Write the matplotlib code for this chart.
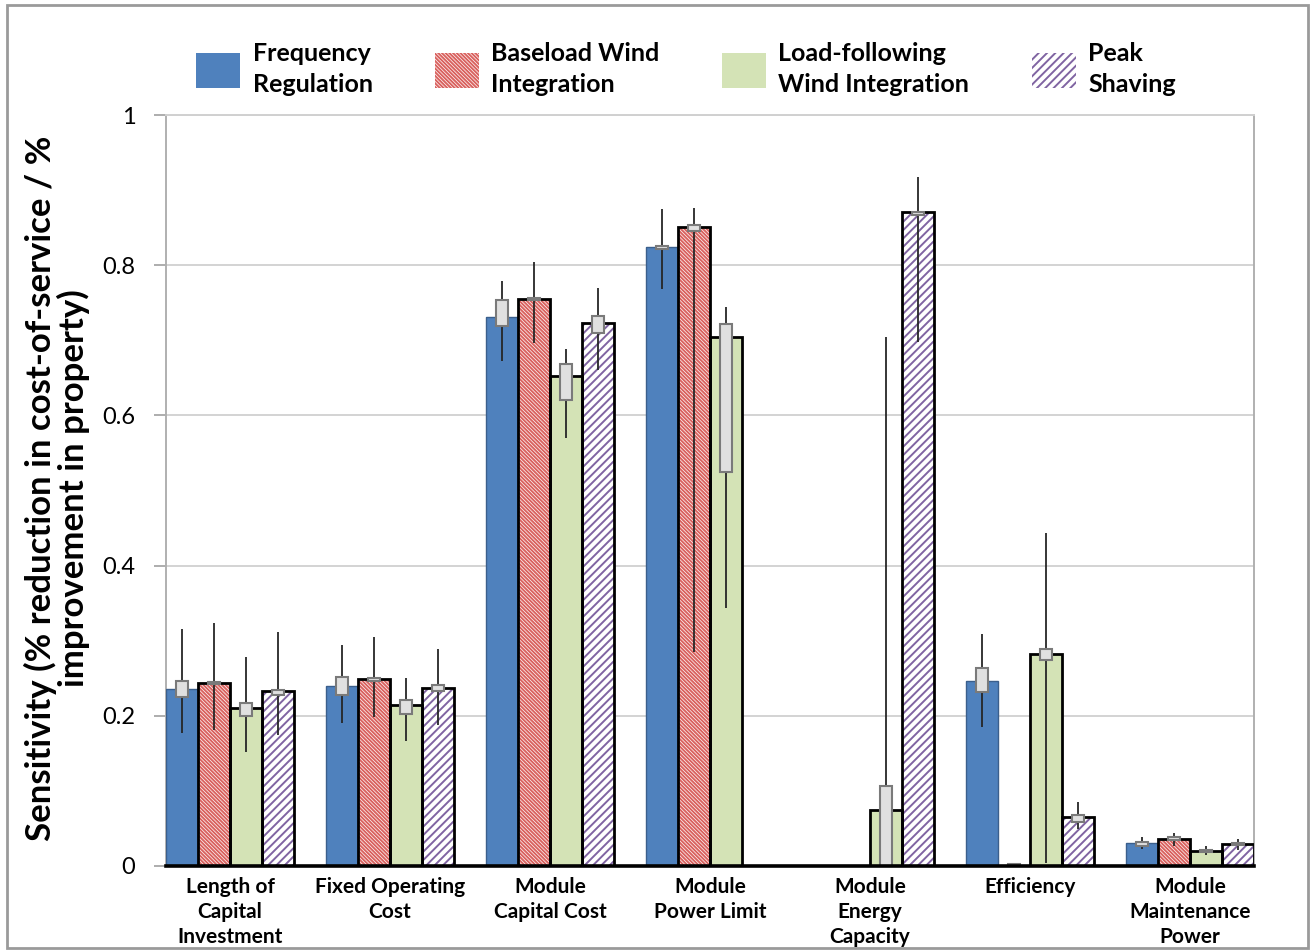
import numpy as np
import matplotlib
matplotlib.use("Agg")
import matplotlib.pyplot as plt
from matplotlib.patches import Rectangle, Patch

nan = np.nan

categories = ["Length of\nCapital\nInvestment", "Fixed Operating\nCost", "Module\nCapital Cost",
              "Module\nPower Limit", "Module\nEnergy\nCapacity", "Efficiency",
              "Module\nMaintenance\nPower"]
series_names = ["Frequency\nRegulation", "Baseload Wind\nIntegration",
                "Load-following\nWind Integration", "Peak\nShaving"]

freq = [0.236, 0.240, 0.731, 0.824, 0.0, 0.247, 0.030]
freq_err_lo = [0.177, 0.191, 0.672, 0.768, nan, 0.185, 0.022]
freq_err_hi = [0.316, 0.294, 0.779, 0.875, nan, 0.309, 0.038]
freq_box_lo = [0.225, 0.228, 0.719, 0.822, nan, 0.232, 0.027]
freq_box_hi = [0.246, 0.251, 0.753, 0.825, nan, 0.263, 0.032]

base = [0.244, 0.249, 0.755, 0.851, 0.0, 0.0, 0.0355]
base_err_lo = [0.181, 0.199, 0.697, 0.285, nan, nan, 0.026]
base_err_hi = [0.323, 0.305, 0.804, 0.876, nan, nan, 0.0435]
base_box_lo = [0.242, 0.247, 0.754, 0.846, nan, 0.0, 0.034]
base_box_hi = [0.245, 0.250, 0.756, 0.854, nan, 0.002, 0.038]

load = [0.211, 0.214, 0.653, 0.704, 0.075, 0.282, 0.020]
load_err_lo = [0.152, 0.166, 0.570, 0.344, 0.0, 0.004, 0.015]
load_err_hi = [0.278, 0.250, 0.689, 0.744, 0.705, 0.444, 0.027]
load_box_lo = [0.200, 0.203, 0.620, 0.525, 0.0, 0.274, 0.018]
load_box_hi = [0.217, 0.221, 0.669, 0.722, 0.106, 0.289, 0.021]

peak = [0.233, 0.237, 0.723, 0.0, 0.871, 0.065, 0.029]
peak_err_lo = [0.174, 0.188, 0.661, nan, 0.698, 0.049, 0.021]
peak_err_hi = [0.311, 0.289, 0.769, nan, 0.917, 0.085, 0.036]
peak_box_lo = [0.228, 0.233, 0.710, nan, 0.867, 0.059, 0.028]
peak_box_hi = [0.235, 0.241, 0.732, nan, 0.871, 0.068, 0.031]

yticks = [0, 0.2, 0.4, 0.6, 0.8, 1.0]
ytick_labels = ["0", "0.2", "0.4", "0.6", "0.8", "1"]

plt.rcParams['font.family'] = ['Lato', 'DejaVu Sans']
plt.rcParams['hatch.linewidth'] = 1.4

fig = plt.figure(figsize=(13.12, 9.51), dpi=100)
ax = fig.add_axes([166/1312, 1-866/951, (1254-166)/1312, (866-115)/951])

x = np.arange(len(categories))
w = 0.2
offsets = np.array([-1.5, -0.5, 0.5, 1.5]) * w

data = [
    (freq, freq_err_lo, freq_err_hi, freq_box_lo, freq_box_hi),
    (base, base_err_lo, base_err_hi, base_box_lo, base_box_hi),
    (load, load_err_lo, load_err_hi, load_box_lo, load_box_hi),
    (peak, peak_err_lo, peak_err_hi, peak_box_lo, peak_box_hi),
]
styles = [
    dict(face='#4f81bd', hatch=None, hcol='#4f81bd', edge='#3b5f8c', lw=1.0),
    dict(face='white', hatch='\\' * 9, hcol='#d9625f', edge='black', lw=2.0),
    dict(face='#d4e3b6', hatch=None, hcol='#d4e3b6', edge='black', lw=2.0),
    dict(face='white', hatch='////', hcol='#8064a2', edge='black', lw=2.0),
]

handles = []
for i, ((vals, elo, ehi, blo, bhi), st) in enumerate(zip(data, styles)):
    xs = x + offsets[i]
    vals = np.array(vals, dtype=float)
    ax.bar(xs, vals, w, color=st['face'], edgecolor=st['hcol'], hatch=st['hatch'],
           linewidth=0, zorder=2)
    mask = vals > 0
    ax.bar(xs[mask], vals[mask], w, fill=False, edgecolor=st['edge'],
           linewidth=st['lw'], zorder=3)
    elo = np.array(elo, dtype=float)
    ehi = np.array(ehi, dtype=float)
    ax.vlines(xs, elo, ehi, color='#262626', linewidth=1.3, zorder=4)
    blo = np.array(blo, dtype=float)
    bhi = np.array(bhi, dtype=float)
    ax.bar(xs, bhi - blo, 0.08, bottom=blo, color='#e0e0e0', edgecolor='#7a7a7a',
           linewidth=1.5, zorder=5)
    handles.append(Patch(facecolor=st['face'], edgecolor=st['hcol'], hatch=st['hatch'],
                         linewidth=0))

ax.set_xlim(-0.4, 6.4)
ax.set_ylim(0, 1)
ax.set_yticks(yticks)
ax.set_yticklabels(ytick_labels, fontsize=17)
ax.set_xticks(x)
ax.set_xticklabels(categories, fontsize=15, fontweight='bold', linespacing=1.3)
ax.tick_params(axis='x', length=0, pad=8)
ax.tick_params(axis='y', length=9, width=1.2, color='#a0a0a0', pad=13)
ax.grid(axis='y', color='#d0d0d0', linewidth=1.3, zorder=0)
ax.set_axisbelow(True)
for s in ['left', 'right', 'top']:
    ax.spines[s].set_color('#b0b0b0')
    ax.spines[s].set_linewidth(1.4)
ax.spines['top'].set_color('#d0d0d0')
ax.spines['bottom'].set_color('black')
ax.spines['bottom'].set_linewidth(2.6)
ax.spines['bottom'].set_zorder(6)

fig.text(57/1312, 1-488/951,
         "Sensitivity (% reduction in cost-of-service / %\nimprovement in property)",
         rotation=90, ha='center', va='center', multialignment='center',
         fontsize=25, fontweight='bold', linespacing=1.0)

leg = fig.legend(handles, series_names, loc='center', bbox_to_anchor=(686/1312, 1-69/951),
                 ncol=4, frameon=False, prop={'weight': 'bold', 'size': 18},
                 handlelength=1.75, handleheight=1.75, handletextpad=0.5,
                 columnspacing=2.5)
for t in leg.get_texts():
    t.set_linespacing(1.45)

fig.patches.append(Rectangle((7/1312, 1-948/951), (1308-7)/1312, (948-5)/951,
                             transform=fig.transFigure, fill=False,
                             edgecolor='#9a9a9a', linewidth=2))

fig.savefig("out.png", dpi=100)
